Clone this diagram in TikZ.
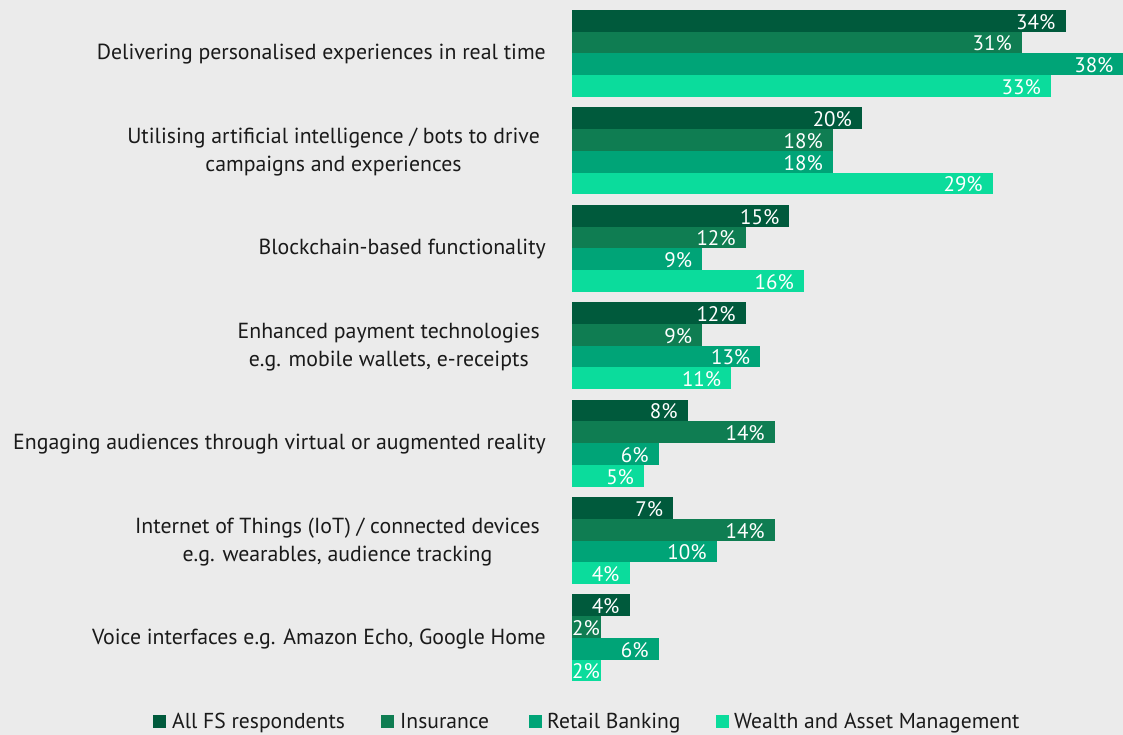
\documentclass[tikz,border=0pt]{standalone}
\usepackage{fontspec}
\setmainfont{PT Sans}
\definecolor{bg}{HTML}{EBEBEB}
\definecolor{cA}{HTML}{005A3C}
\definecolor{cB}{HTML}{0F7D52}
\definecolor{cC}{HTML}{00A477}
\definecolor{cD}{HTML}{0BDC9C}
\definecolor{txt}{HTML}{1A1A1A}
\newcommand{\twoline}[2]{\begin{tabular}[t]{@{}c@{}}#1\\#2\end{tabular}}
\begin{document}
\begin{tikzpicture}[x=1pt,y=-1pt,
  cat/.style={anchor=base east,text=txt,font=\fontsize{21.8}{28}\selectfont,inner sep=0pt},
  val/.style={anchor=base east,text=white,font=\fontsize{21}{22}\selectfont,inner sep=0pt},
  valw/.style={anchor=base west,text=white,font=\fontsize{21}{22}\selectfont,inner sep=0pt},
  leg/.style={anchor=base west,text=txt,font=\fontsize{21.6}{22}\selectfont,inner sep=0pt},
  sq/.style={minimum size=13pt,inner sep=0pt,anchor=south west}]
\fill[bg] (0,0) rectangle (1123,735);
\useasboundingbox (0,0) rectangle (1123,735);
\def\xo{571.5}
\def\sc{14.53}
\def\bh{21.75}
\foreach \g/\va/\vb/\vc/\vd in {0/34/31/38/33,1/20/18/18/29,2/15/12/9/16,3/12/9/13/11,4/8/14/6/5,5/7/14/10/4,6/4/2/6/2}{
  \pgfmathsetmacro{\top}{10+\g*97.4}
  \foreach \i/\v/\c in {0/\va/cA,1/\vb/cB,2/\vc/cC,3/\vd/cD}{
    \pgfmathsetmacro{\yt}{\top+\i*\bh}
    \pgfmathsetmacro{\xe}{\xo+\v*\sc}
    \fill[\c] (\xo,\yt) rectangle (\xe,\yt+\bh);
    \ifnum\v<3
      \node[valw] (v\g\i) at (\xo+0.5,\yt+\bh-2.5) {\v\%};
    \else
      \node[val] (v\g\i) at (\xe-10,\yt+\bh-2.5) {\v\%};
    \fi
  }
}
\node[cat] (c0) at (546,60) {Delivering personalised experiences in real time};
\node[cat] (c1) at (540,144) {\twoline{Utilising artificial intelligence / bots to drive}{campaigns and experiences}};
\node[cat] (c2) at (546,254.8) {Blockchain-based functionality};
\node[cat] (c3) at (540,338.8) {\twoline{Enhanced payment technologies}{e.g. mobile wallets, e-receipts}};
\node[cat] (c4) at (546,449.6) {Engaging audiences through virtual or augmented reality};
\node[cat] (c5) at (540,533.6) {\twoline{Internet of Things (IoT) / connected devices}{e.g. wearables, audience tracking}};
\node[cat] (c6) at (546,644.4) {Voice interfaces e.g. Amazon Echo, Google Home};
\node[sq,fill=cA] (s1) at (153,728) {};
\node[leg] (l1) at (172,728) {All FS respondents};
\node[sq,fill=cB] (s2) at (381,728) {};
\node[leg] (l2) at (400,728) {Insurance};
\node[sq,fill=cC] (s3) at (529,728) {};
\node[leg] (l3) at (547,728) {Retail Banking};
\node[sq,fill=cD] (s4) at (716,728) {};
\node[leg] (l4) at (734,728) {Wealth and Asset Management};
\end{tikzpicture}
\end{document}
